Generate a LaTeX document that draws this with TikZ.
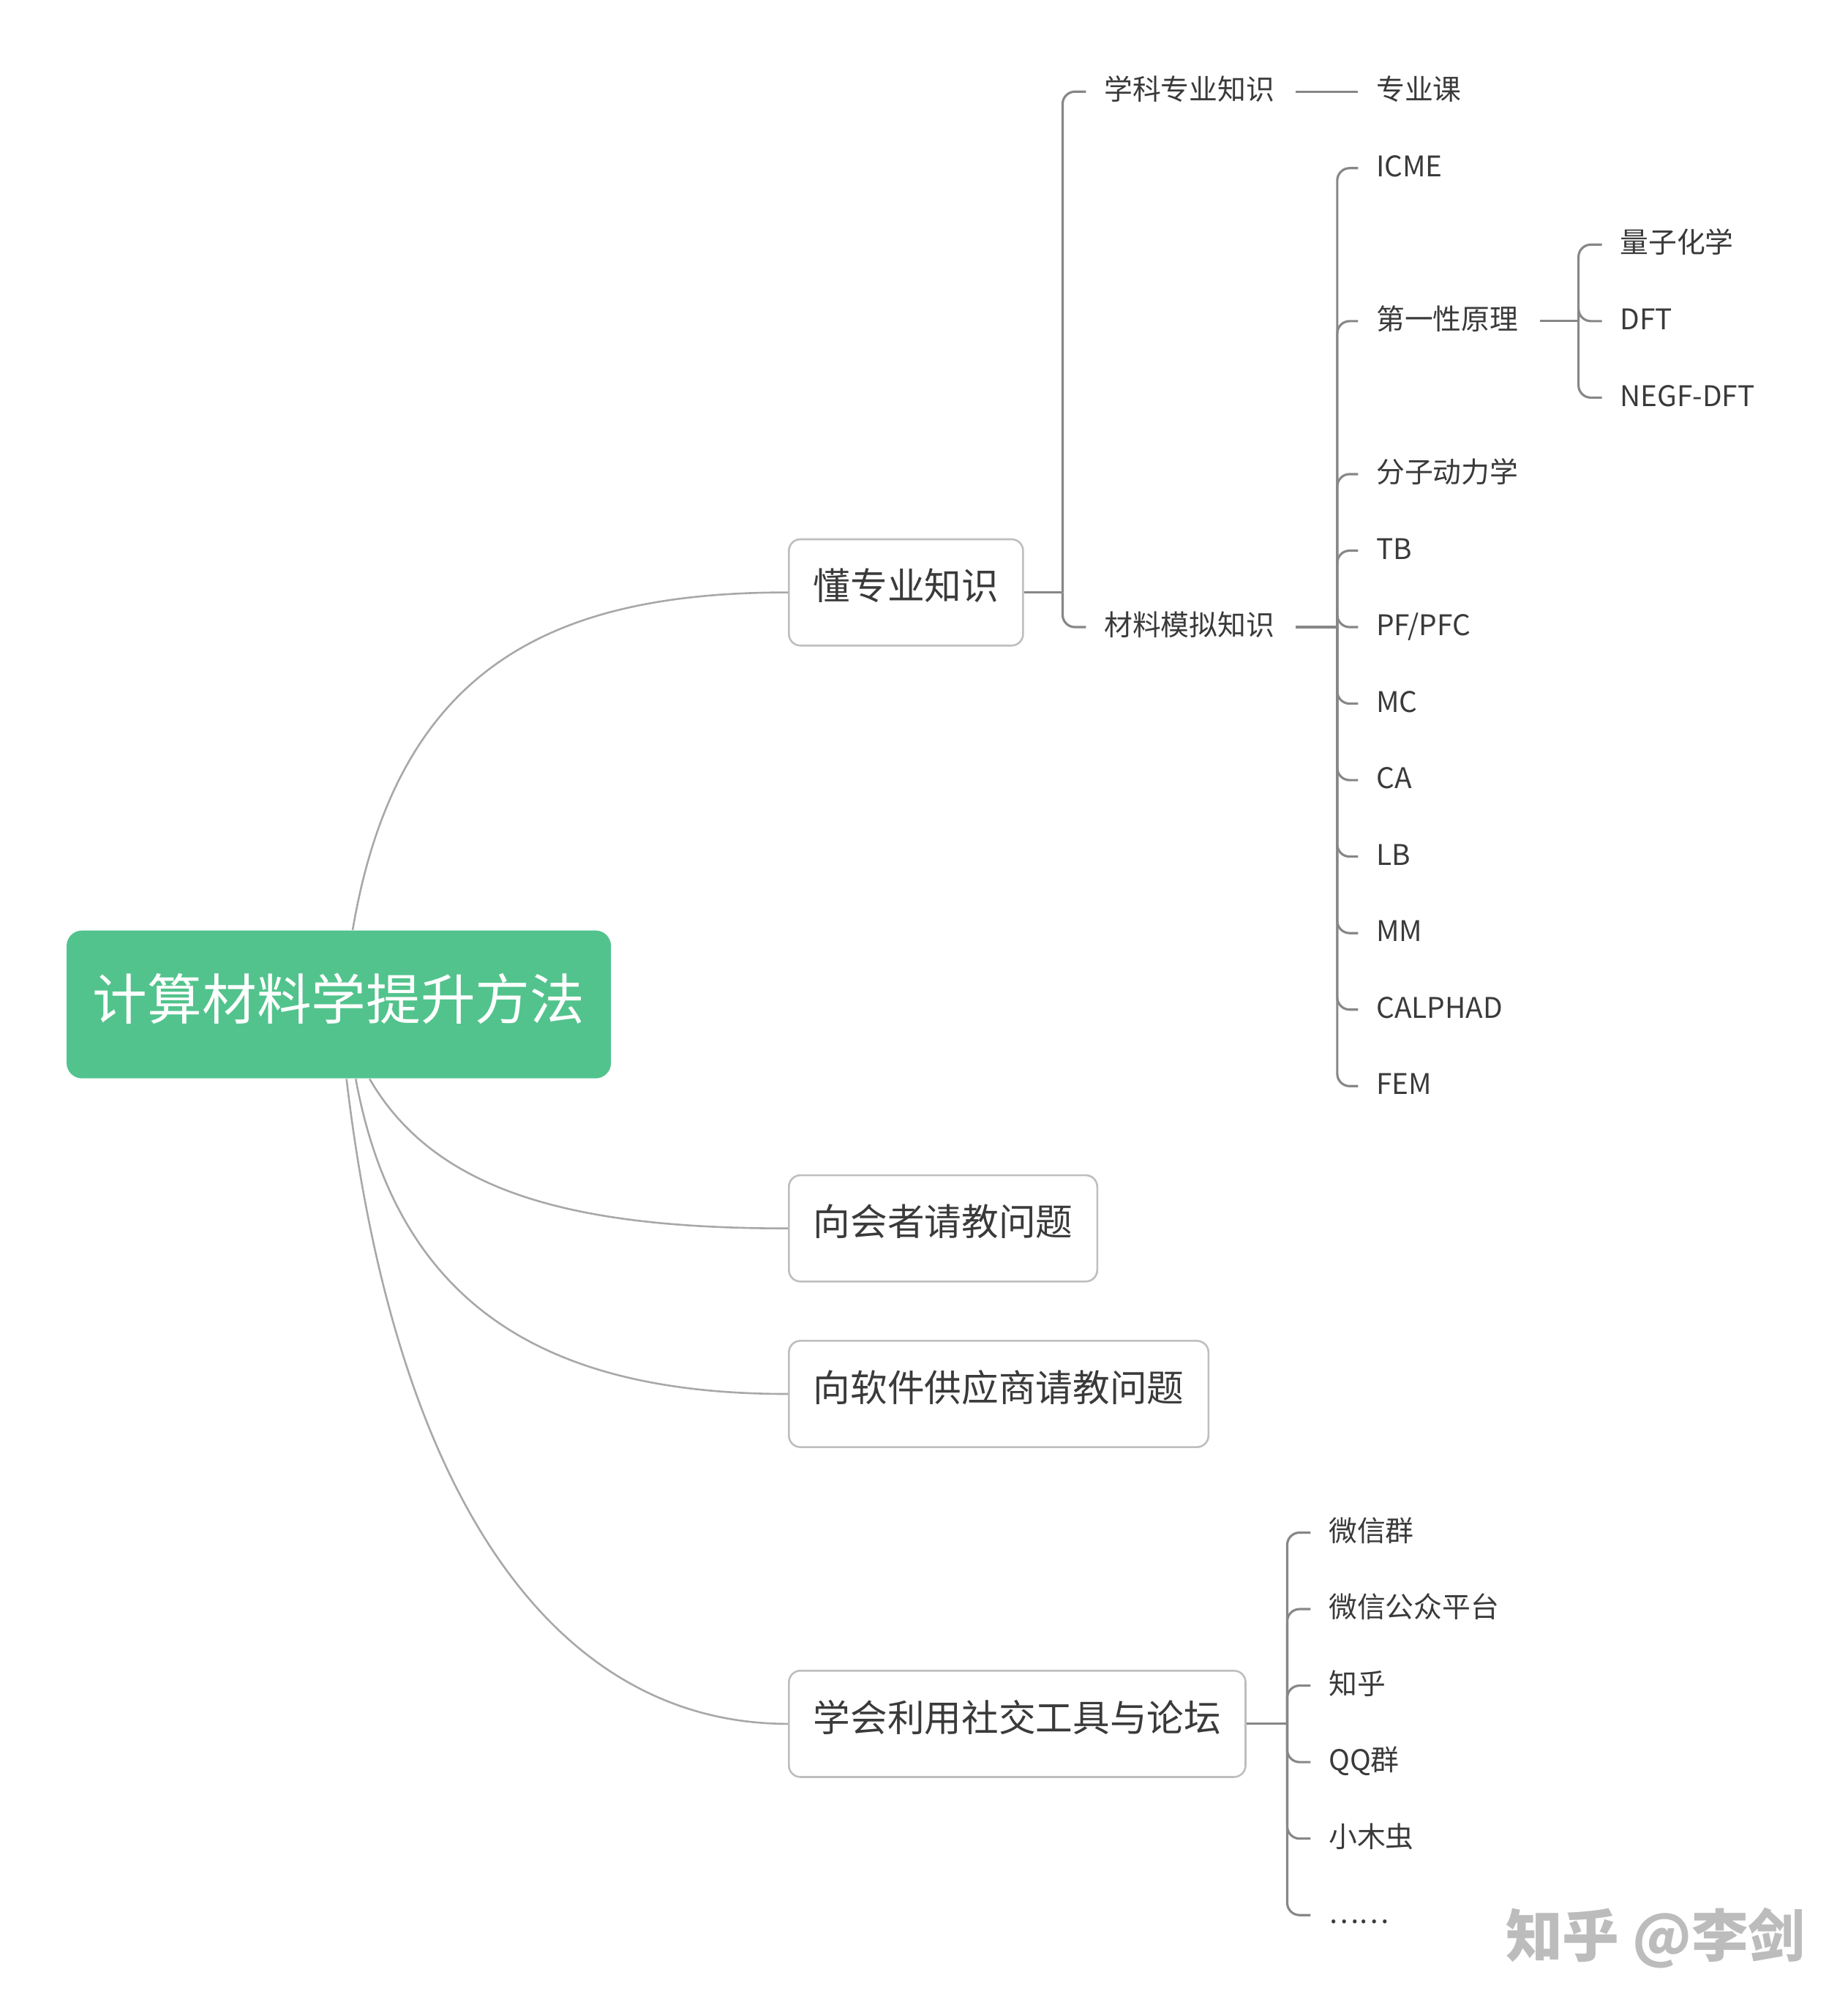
\documentclass[tikz,border=0pt]{standalone}
\usepackage{fontspec}
\setmainfont{Noto Sans CJK SC}
\usepackage{tikz}
\definecolor{RootGreen}{RGB}{82,195,140}
\definecolor{BoxGray}{RGB}{190,190,190}
\definecolor{CurveGray}{RGB}{168,168,168}
\definecolor{BranchGray}{RGB}{135,135,135}
\definecolor{InkGray}{RGB}{58,58,58}
\definecolor{MarkGray}{RGB}{188,188,188}
\tikzset{
  rootbox/.style={fill=RootGreen, rounded corners=2mm, minimum width=7.07cm, minimum height=1.92cm,
    inner sep=0pt, text=white, font=\fontsize{20.2pt}{24pt}\selectfont, text height=14pt, text depth=2.8pt},
  topicbox/.style={draw=BoxGray, line width=0.7pt, rounded corners=1.5mm, anchor=west, minimum height=1.38cm,
    inner xsep=0.317cm, inner ysep=0pt, text=InkGray, font=\fontsize{13.7pt}{16pt}\selectfont,
    text height=7.5pt, text depth=2pt},
  leaf/.style={anchor=west, inner sep=0pt, text=InkGray, font=\fontsize{10.5pt}{12pt}\selectfont,
    text height=7.5pt, text depth=1.2pt},
  trunk/.style={draw=CurveGray, line width=0.7pt},
  brk/.style={draw=BranchGray, line width=0.85pt, rounded corners=1.6mm},
  wmark/.style={text=MarkGray, font=\fontsize{21pt}{24pt}\selectfont\bfseries, inner sep=0pt},
}

\begin{document}
\begin{tikzpicture}
  \useasboundingbox (0,0) rectangle (24,-26.138);
  % root and main topics
  \node[rootbox] (root) at (4.4,-13.042) {计算材料学提升方法};
  \node[topicbox] (know) at (10.233,-7.692) {懂专业知识};
  \node[topicbox] (ask) at (10.233,-15.95) {向会者请教问题};
  \node[topicbox] (vendor) at (10.233,-18.1) {向软件供应商请教问题};
  \node[topicbox] (social) at (10.233,-19.9-0.9933*2.5) {学会利用社交工具与论坛};
  \draw[trunk] ([xshift=1.8mm]root.north) .. controls +(0.58,3.42) and +(-3.07,0) .. (know.west);
  \draw[trunk] ([xshift=4mm]root.south) .. controls +(0.87,-1.5) and +(-2.73,0) .. (ask.west);
  \draw[trunk] ([xshift=2.2mm]root.south) .. controls +(0.55,-3) and +(-3.07,0) .. (vendor.west);
  \draw[trunk] ([xshift=1mm]root.south) .. controls +(0.67,-5.67) and +(-2.9,0) .. (social.west);
  % knowledge branch
  \node[leaf] (subj) at (14.333,-1.19) {学科专业知识};
  \node[leaf] (sim) at (14.333,-2.183-0.9933*6) {材料模拟知识};
  \coordinate (jknow) at (13.8,-7.692);
  \draw[brk] (know.east) -- (jknow);
  \foreach \n in {subj,sim} \draw[brk] (jknow) |- ([xshift=-2.3mm]\n.west);
  \node[leaf] (course) at (17.867,-1.19) {专业课};
  \draw[brk] ([xshift=2.7mm]subj.east) -- ([xshift=-2.3mm]course.west);
  % simulation methods
  \coordinate (jsim) at (17.367,-2.183-0.9933*6);
  \draw[brk] ([xshift=2.7mm]sim.east) -- (jsim);
  \foreach \n/\i/\t in {icme/0/ICME, fp/2/第一性原理, md/4/分子动力学, tb/5/TB, pf/6/{PF/PFC}, mc/7/MC,
      ca/8/CA, lb/9/LB, mm/10/MM, calphad/11/CALPHAD, fem/12/FEM}{
    \node[leaf] (\n) at (17.867,-2.183-0.9933*\i) {\t};
    \draw[brk] (jsim) |- ([xshift=-2.3mm]\n.west);
  }
  % first principles
  \coordinate (jfp) at (20.5,-2.183-0.9933*2);
  \draw[brk] ([xshift=2.7mm]fp.east) -- (jfp);
  \foreach \n/\i/\t in {qc/1/量子化学, dft/2/DFT, negf/3/NEGF-DFT}{
    \node[leaf] (\n) at (21.033,-2.183-0.9933*\i) {\t};
    \draw[brk] (jfp) |- ([xshift=-2.3mm]\n.west);
  }
  % social tools
  \coordinate (jsoc) at (16.717,-19.9-0.9933*2.5);
  \draw[brk] (social.east) -- (jsoc);
  \foreach \n/\i/\t in {wxq/0/微信群, wxgz/1/微信公众平台, zhihu/2/知乎, qq/3/QQ群, xmc/4/小木虫, more/5/……}{
    \node[leaf] (\n) at (17.25,-19.9-0.9933*\i) {\t};
    \draw[brk] (jsoc) |- ([xshift=-2.3mm]\n.west);
  }
  \node[wmark] (zhmark) at (21.5,-25.167) {知乎 @李剑};
\end{tikzpicture}
\end{document}
